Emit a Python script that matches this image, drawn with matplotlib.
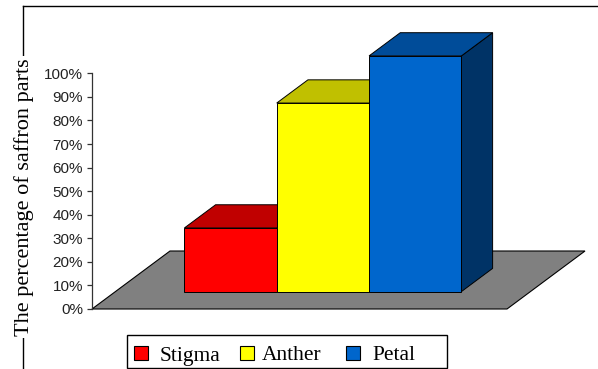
import matplotlib
matplotlib.use("Agg")
import matplotlib.pyplot as plt
from matplotlib.patches import Polygon, Rectangle
from matplotlib.lines import Line2D
from matplotlib.ticker import FuncFormatter

# ---- data ----
parts = ["Stigma", "Anther", "Petal"]
values = [27, 80, 100]
yticks = [0, 10, 20, 30, 40, 50, 60, 70, 80, 90, 100]
ylabel = "The percentage of saffron parts"

front_colors = ["#FF0000", "#FFFF00", "#0066CC"]
top_colors = ["#C00000", "#C0C000", "#004C99"]
side_colors = ["#800000", "#808000", "#003366"]

W, H = 598, 369
fig = plt.figure(figsize=(W / 100, H / 100), dpi=100)
ax = fig.add_axes([0, 0, 1, 1])

# scale: x in floor-width units, y in percent (front plane)
x0px, y0px = 92.0, 309.0
px_per_x = 415.0
px_per_pct = 2.357
ax.set_xlim(-x0px / px_per_x, (W - x0px) / px_per_x)
ax.set_ylim((y0px - H) / px_per_pct, y0px / px_per_pct)
ax.patch.set_visible(False)

# oblique depth vector for one full floor depth
DX = 78.0 / px_per_x
DY = 58.0 / px_per_pct


def proj(x, v, d):
    return (x + d * DX, v + d * DY)


# floor
floor = [proj(0, 0, 0), proj(1, 0, 0), proj(1, 0, 1), proj(0, 0, 1)]
ax.add_patch(Polygon(floor, closed=True, facecolor="#808080",
                     edgecolor="black", lw=0.8, zorder=1))

# bars
bw = 0.2225
z_front, z_back = 0.30, 0.70
for i, v in enumerate(values):
    xl = 0.5 - 1.5 * bw + i * bw
    xr = xl + bw
    side = [proj(xr, 0, z_front), proj(xr, 0, z_back),
            proj(xr, v, z_back), proj(xr, v, z_front)]
    top = [proj(xl, v, z_front), proj(xr, v, z_front),
           proj(xr, v, z_back), proj(xl, v, z_back)]
    front = [proj(xl, 0, z_front), proj(xr, 0, z_front),
             proj(xr, v, z_front), proj(xl, v, z_front)]
    z = 2 + i
    ax.add_patch(Polygon(side, closed=True, facecolor=side_colors[i],
                         edgecolor="black", lw=0.7, zorder=z))
    ax.add_patch(Polygon(top, closed=True, facecolor=top_colors[i],
                         edgecolor="black", lw=0.7, zorder=z))
    ax.add_patch(Polygon(front, closed=True, facecolor=front_colors[i],
                         edgecolor="black", lw=0.7, zorder=z))

# value axis
for s in ["top", "right", "bottom"]:
    ax.spines[s].set_visible(False)
ax.spines["left"].set_position(("data", 0))
ax.spines["left"].set_bounds(0, 100)
ax.spines["left"].set_color("#333333")
ax.spines["left"].set_linewidth(0.9)
ax.set_xticks([])
ax.set_yticks(yticks)
ax.yaxis.set_major_formatter(FuncFormatter(lambda v, p: f"{v:.0f}%"))
ax.tick_params(axis="y", direction="out", length=3.5, width=0.9,
               color="#333333", pad=3, labelsize=11, labelcolor="#222222")
for lab in ax.get_yticklabels():
    lab.set_fontfamily("Liberation Sans")

# chart-area border (left and top)
fig.add_artist(Line2D([23 / W, 23 / W], [1 - 6 / H, 0], transform=fig.transFigure,
                      color="black", lw=1.0, zorder=0))
fig.add_artist(Line2D([23 / W, 1], [1 - 6 / H, 1 - 6 / H], transform=fig.transFigure,
                      color="black", lw=1.0, zorder=0))

fig.text(24.5 / W, 1 - 197 / H, ylabel, rotation=90, ha="center", va="center",
         fontsize=16, family="Liberation Serif", color="black",
         bbox=dict(facecolor="white", edgecolor="none", pad=2), zorder=5)


# legend, laid out in figure pixels
def fx(px):
    return px / W


def fy(py):
    return 1 - py / H


fig.add_artist(Rectangle((fx(127), fy(367.5)), (446.5 - 127) / W, (367.5 - 335) / H,
                         transform=fig.transFigure, facecolor="white",
                         edgecolor="black", lw=1.0, zorder=6))
marker_x = [134, 240, 345.5]
text_x = [160, 261.5, 372]
for i, name in enumerate(parts):
    fig.add_artist(Rectangle((fx(marker_x[i]), fy(360)), 14 / W, 14 / H,
                             transform=fig.transFigure, facecolor=front_colors[i],
                             edgecolor="black", lw=0.8, zorder=7))
    fig.text(fx(text_x[i]), fy(360.5), name, ha="left", va="baseline",
             fontsize=15.5, family="Liberation Serif", color="black", zorder=7)

fig.savefig("out.png", dpi=100)
